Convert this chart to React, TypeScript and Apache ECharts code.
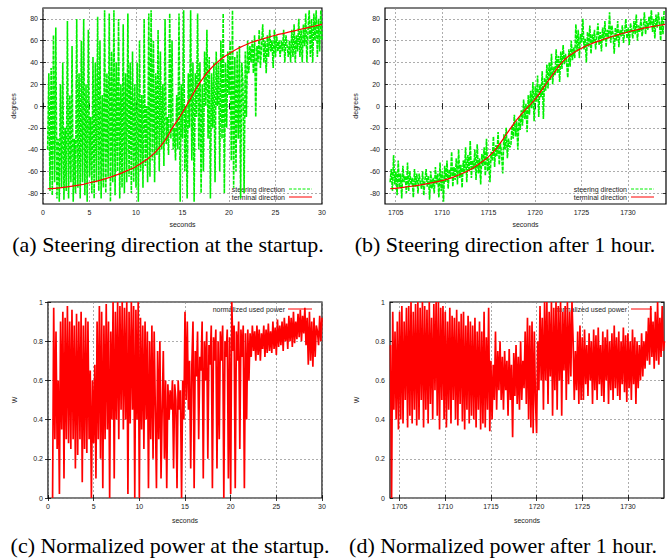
import React, { useEffect, useRef } from "react";
import * as echarts from "echarts";

// ---------- data ----------
const degreeTicks = [-80, -60, -40, -20, 0, 20, 40, 60, 80];
const lateSecondTicks = [1705, 1710, 1715, 1720, 1725, 1730];

// (a) steering direction at startup: sampled every 0.125 s from 0.5 s
const steeringStartT0 = 0.5;
const steeringStartStep = 0.125;
const steeringStartup = [
  -40, 30, -78, 35, -82, 65, -70, 72,
  -85, -30, -88, 20, -75, 40, -86, -20,
  -78, 78, -85, 10, -70, 55, -88, -30,
  -80, 80, -75, 30, -85, 60, -70, 80,
  -82, 20, -88, 70, -65, -10, -80, 45,
  -85, 40, -70, 82, -78, 60, -85, 10,
  -75, 88, -80, 30, -65, 85, -88, 50,
  -70, 88, -82, 40, -60, 80, -85, 20,
  -75, 75, -80, 30, -70, 85, -65, 40,
  -80, 50, -70, 20, -75, 40, -88, 60,
  -60, 10, -75, 80, -55, 0, -70, 85,
  -65, 88, -50, 60, -70, 30, -45, 70,
  -60, 50, -40, 20, -55, 80, -35, -10,
  -45, 85, -30, 60, -40, -20, -50, 10,
  -40, 85, -88, 20, -30, 88, -60, 0,
  -85, 30, -20, 88, -50, 40, -88, 30,
  -10, 85, -40, 40, -80, 20, -60, 50,
  0, 70, -30, 45, -85, 30, -20, 40,
  -70, 50, 0, 40, -60, 60, -30, 85,
  -80, 40, -20, 50, 10, 60, -50, 88,
  -75, 45, -60, 50, -30, 55, -85, 40,
  20, -80, 50, -10, 60, 30, 55, 40,
  60, 30, 65, -10, 55, 40, 70, 35,
  55, 75, 40, 60, 30, 65, 45, 70,
  50, 60, 35, 70, 45, 65, 50, 60,
  45, 60, 50, 70, 40, 65, 55, 45,
  60, 40, 70, 45, 75, 40, 65, 50,
  80, 45, 70, 40, 75, 55, 85, 40,
  70, 88, 45, 80, 40, 85, 60, 88,
  45, 80, 50, 88, 60,
];
const terminalStartT = [0.5, 2, 4, 5, 6, 7, 8, 9, 10, 11, 12, 13, 14, 15, 16, 17, 18, 19, 20, 21, 22, 23, 24, 25, 26, 27, 28, 29, 30];
const terminalStartDeg = [-76, -75, -72.5, -70.5, -68.5, -66, -63, -59.5, -55.5, -50, -43, -33, -19, -6, 9, 23, 34, 42, 48, 53, 57, 60, 62.5, 65, 67, 69, 71, 73, 75];

// (b) steering direction after 1 hour: every 0.125 s from 1704.4 s
const steeringLateT0 = 1704.4;
const steeringLateStep = 0.125;
const steeringLate = [
  -70, -58, -78, -45, -72, -60, -82, -50,
  -75, -62, -85, -55, -70, -64, -80, -52,
  -78, -60, -72, -66, -84, -58, -74, -62,
  -80, -62, -70, -76, -60, -82, -68, -58,
  -74, -64, -86, -60, -76, -66, -80, -56,
  -72, -62, -84, -52, -78, -60, -88, -55,
  -70, -50, -76, -58, -66, -42, -74, -56,
  -68, -48, -72, -40, -66, -54, -75, -50,
  -62, -38, -70, -45, -60, -32, -66, -50,
  -58, -40, -68, -35, -62, -48, -72, -44,
  -55, -38, -64, -30, -60, -48, -70, -42,
  -50, -28, -56, -36, -46, -24, -54, -34,
  -44, -62, -26, -40, -20, -48, -30, -38,
  -36, -18, -30, -8, -28, -14, -40, -10,
  -22, -4, -18, 6, -12, 2, -24, 10,
  -8, 14, -2, 22, -14, 18, 4, 28,
  -10, 20, 8, 32, -12, 26, 14, 38,
  16, 40, 24, 48, 20, 36, 28, 52,
  30, 46, 22, 50, 34, 56, 38, 48,
  40, 26, 52, 36, 60, 42, 54, 44,
  75, 50, 70, 44, 66, 58, 80, 52,
  62, 40, 68, 54, 74, 48, 66, 58,
  70, 52, 64, 76, 56, 68, 50, 72,
  60, 78, 54, 70, 62, 86, 58, 74,
  66, 48, 72, 60, 78, 54, 70, 64,
  74, 58, 68, 80, 62, 72, 56, 76,
  70, 62, 78, 66, 84, 60, 74, 68,
  80, 64, 72, 86, 66, 78, 70, 82,
  74, 88, 68, 80, 62, 84, 72, 86,
  76, 60, 82, 66, 88,
];
const terminalLateT = [1704.4, 1706, 1708, 1710, 1711, 1712, 1713, 1714, 1715, 1716, 1717, 1718, 1719, 1720, 1721, 1722, 1723, 1724, 1725, 1726, 1727, 1728, 1729, 1730, 1731, 1732, 1733, 1734];
const terminalLateDeg = [-76, -74.5, -72, -68.5, -66, -62.5, -58.5, -53, -46.5, -37, -25, -13, -3, 6, 18, 30, 41, 48, 53, 57, 60, 63, 65.5, 68, 70, 72, 73.5, 75];

// (c) normalized used power at startup: every 0.125 s from 0.5 s
const powerStartT0 = 0.5;
const powerStartStep = 0.125;
const powerStartup = [
  0.0, 0.97, 0.3, 0.85, 0.25, 0.6, 0.02, 0.9,
  0.35, 0.95, 0.1, 0.92, 0.3, 0.98, 0.28, 0.9,
  0.25, 0.96, 0.3, 0.88, 0.15, 0.94, 0.22, 0.9,
  0.3, 0.95, 0.08, 0.88, 0.25, 0.92, 0.23, 0.9,
  0.3, 0.65, 0.0, 0.6, 0.28, 0.68, 0.1, 0.9,
  0.3, 0.98, 0.2, 0.95, 0.05, 0.88, 0.3, 0.99,
  0.35, 0.9, 0.0, 0.85, 0.4, 1.0, 0.1, 0.95,
  0.4, 1.0, 0.3, 0.98, 0.45, 1.0, 0.35, 0.97,
  0.4, 1.0, 0.02, 0.95, 0.38, 1.0, 0.45, 0.98,
  0.0, 0.96, 0.4, 1.0, 0.0, 0.92, 0.35, 0.88,
  0.25, 0.9, 0.4, 0.85, 0.05, 0.8, 0.3, 0.88,
  0.2, 0.85, 0.45, 0.05, 0.75, 0.3, 0.8, 0.1,
  0.45, 0.75, 0.2, 0.6, 0.05, 0.58, 0.4, 0.55,
  0.45, 0.6, 0.15, 0.58, 0.5, 0.05, 0.6, 0.45,
  0.55, 0.0, 0.6, 0.4, 0.95, 0.5, 0.9, 0.45,
  0.7, 0.15, 0.68, 0.9, 0.05, 0.75, 0.62, 0.85,
  0.3, 0.72, 0.65, 0.9, 0.1, 0.8, 0.6, 0.85,
  0.2, 0.78, 0.68, 0.88, 0.05, 0.82, 0.7, 0.86,
  0.15, 0.8, 0.3, 0.85, 0.7, 0.88, 0.0, 0.8,
  0.72, 0.86, 0.1, 0.82, 0.02, 1.0, 0.75, 0.88,
  0.05, 0.85, 0.7, 0.9, 0.25, 0.86, 0.72, 0.88,
  0.05, 0.84, 0.4, 0.86, 0.6, 0.84, 0.72, 0.88,
  0.75, 0.85, 0.7, 0.88, 0.73, 0.86, 0.7, 0.84,
  0.76, 0.88, 0.72, 0.86, 0.74, 0.89, 0.75, 0.85,
  0.74, 0.9, 0.76, 0.87, 0.73, 0.91, 0.77, 0.88,
  0.78, 0.9, 0.75, 0.92, 0.8, 0.89, 0.76, 0.93,
  0.8, 0.92, 0.77, 0.95, 0.79, 0.9, 0.81, 0.94,
  0.82, 0.96, 0.8, 0.93, 0.84, 0.97, 0.78, 0.92,
  0.68, 0.95, 0.7, 0.9, 0.67, 0.92, 0.72, 0.88,
  0.85, 0.78, 0.93, 0.8, 0.92,
];

// (d) normalized used power after 1 hour: every 0.125 s from 1704 s
const powerLateT0 = 1704;
const powerLateStep = 0.125;
const powerLate = [
  0.78, 0.0, 0.95, 0.45, 0.85, 0.4, 0.9, 0.35,
  0.95, 0.4, 0.98, 0.38, 0.9, 0.5, 0.97, 0.36,
  0.98, 0.42, 1.0, 0.38, 0.95, 0.45, 0.99, 0.37,
  1.0, 0.4, 0.97, 0.5, 1.0, 0.36, 0.98, 0.45,
  0.96, 0.38, 1.0, 0.48, 0.92, 0.4, 0.99, 0.55,
  1.0, 0.42, 1.0, 0.35, 0.97, 0.5, 0.98, 0.4,
  0.95, 0.36, 0.9, 0.45, 0.97, 0.38, 0.93, 0.5,
  0.92, 0.4, 0.96, 0.37, 0.9, 0.48, 0.94, 0.39,
  0.95, 0.35, 0.88, 0.45, 0.93, 0.38, 0.9, 0.42,
  0.88, 0.4, 0.92, 0.36, 0.85, 0.45, 0.9, 0.35,
  0.85, 0.38, 0.95, 0.36, 0.82, 0.45, 0.97, 0.34,
  0.7, 0.4, 0.68, 0.5, 0.85, 0.45, 0.75, 0.55,
  0.8, 0.5, 0.72, 0.45, 0.75, 0.55, 0.7, 0.42,
  0.76, 0.5, 0.68, 0.31, 0.74, 0.52, 0.78, 0.48,
  0.72, 0.45, 0.8, 0.5, 0.7, 0.56, 0.85, 0.48,
  0.92, 0.4, 0.88, 0.36, 0.9, 0.33, 0.85, 0.5,
  0.33, 0.8, 0.55, 0.98, 0.6, 0.92, 0.45, 1.0,
  0.6, 1.0, 0.48, 0.95, 0.62, 1.0, 0.42, 0.97,
  0.55, 1.0, 0.45, 0.98, 0.6, 1.0, 0.42, 0.95,
  0.65, 0.98, 0.5, 1.0, 0.58, 0.95, 0.62, 1.0,
  0.8, 0.5, 0.75, 0.55, 0.85, 0.48, 0.88, 0.5,
  0.82, 0.5, 0.86, 0.58, 0.78, 0.52, 0.84, 0.6,
  0.8, 0.48, 0.86, 0.55, 0.83, 0.5, 0.87, 0.58,
  0.78, 0.52, 0.85, 0.49, 0.82, 0.6, 0.86, 0.48,
  0.8, 0.55, 0.84, 0.5, 0.88, 0.56, 0.82, 0.52,
  0.85, 0.5, 0.8, 0.58, 0.87, 0.54, 0.83, 0.49,
  0.84, 0.56, 0.8, 0.5, 0.86, 0.58, 0.82, 0.48,
  0.8, 0.56, 0.78, 0.6, 0.84, 0.62, 0.8, 0.66,
  0.85, 0.7, 0.92, 0.68, 0.98, 0.72, 0.9, 0.66,
  0.95, 0.7, 1.0, 0.68, 0.92, 0.72, 0.98, 0.75,
  0.8,
];

const captions = [
  "(a) Steering direction at the startup.",
  "(b) Steering direction after 1 hour.",
  "(c) Normalized power at the startup.",
  "(d) Normalized power after 1 hour.",
];

// ---------- helpers ----------
const SANS = '"Liberation Sans", Arial, sans-serif';
const SERIF = '"Liberation Serif", "Times New Roman", serif';
const GREEN = "#00f000";
const RED = "#ff0000";

const sampled = (t0: number, step: number, vals: number[]) =>
  vals.map((v, i) => [t0 + i * step, v]);
const paired = (ts: number[], vs: number[]) => ts.map((t, i) => [t, vs[i]]);

const splitLine = { show: true, lineStyle: { color: "#8a8a8a", width: 0.7, type: [2, 2] } };
const labelStyle = { fontSize: 7, color: "#222", fontFamily: SANS, formatter: (v: number) => String(v) };
const tickStyle = { show: true, inside: true, length: 3, lineStyle: { color: "#000", width: 0.8 } };

function xAxis(gridIndex: number, min: number, max: number, nameGap: number, custom?: number[]) {
  const ax: any = {
    type: "value",
    gridIndex,
    min,
    max,
    name: "seconds",
    nameLocation: "middle",
    nameGap,
    nameTextStyle: { fontSize: 7, color: "#222", fontFamily: SANS },
    axisLine: { show: false },
    axisTick: { ...tickStyle },
    axisLabel: { ...labelStyle, margin: 5 },
    splitLine,
  };
  if (custom) {
    ax.axisTick.customValues = custom;
    ax.axisLabel.customValues = custom;
  } else {
    ax.interval = 5;
  }
  return ax;
}

// mirrored ticks on the top border (no labels)
function xMirror(gridIndex: number, min: number, max: number, custom?: number[]) {
  const ax: any = {
    type: "value",
    gridIndex,
    position: "top",
    min,
    max,
    axisLine: { show: false },
    axisTick: { ...tickStyle },
    axisLabel: { show: false },
    splitLine: { show: false },
  };
  if (custom) ax.axisTick.customValues = custom;
  else ax.interval = 5;
  return ax;
}

function yAxis(gridIndex: number, min: number, max: number, name: string, nameGap: number, custom?: number[]) {
  const ax: any = {
    type: "value",
    gridIndex,
    min,
    max,
    name,
    nameLocation: "middle",
    nameRotate: 90,
    nameGap,
    nameTextStyle: { fontSize: 7, color: "#222", fontFamily: SANS },
    axisLine: { show: false },
    axisTick: { ...tickStyle },
    axisLabel: { ...labelStyle, margin: 5 },
    splitLine,
  };
  if (custom) {
    ax.axisTick.customValues = custom;
    ax.axisLabel.customValues = custom;
  } else {
    ax.interval = 0.2;
  }
  return ax;
}

function yMirror(gridIndex: number, min: number, max: number, custom?: number[]) {
  const ax: any = {
    type: "value",
    gridIndex,
    position: "right",
    min,
    max,
    axisLine: { show: false },
    axisTick: { ...tickStyle },
    axisLabel: { show: false },
    splitLine: { show: false },
  };
  if (custom) ax.axisTick.customValues = custom;
  else ax.interval = 0.2;
  return ax;
}

const gridBase = { show: true, borderColor: "#000", borderWidth: 1.2, backgroundColor: "transparent", containLabel: false };

function legendText(x: number, y: number, text: string) {
  return {
    type: "text",
    x,
    y,
    style: { text, align: "right", verticalAlign: "middle", font: `7px ${SANS}`, fill: "#222" },
  };
}
function legendLine(x1: number, x2: number, y: number, color: string, dash?: number[]) {
  return {
    type: "line",
    shape: { x1, y1: y, x2, y2: y },
    style: { stroke: color, lineWidth: 1, lineDash: dash || null },
  };
}
function caption(x: number, y: number, text: string) {
  return {
    type: "text",
    x,
    y,
    style: { text, align: "center", verticalAlign: "middle", font: `22px ${SERIF}`, fill: "#000" },
  };
}

export default function App() {
  const ref = useRef<HTMLDivElement>(null);

  useEffect(() => {
    if (!ref.current) return;
    const chart = echarts.init(ref.current, null, { renderer: "svg" });

    const option: any = {
      animation: false,
      backgroundColor: "#fff",
      grid: [
        { ...gridBase, left: 43, top: 8, width: 279, height: 196 },
        { ...gridBase, left: 385, top: 8, width: 281, height: 196 },
        { ...gridBase, left: 48, top: 302, width: 274, height: 196 },
        { ...gridBase, left: 390, top: 302, width: 274, height: 196 },
      ],
      xAxis: [
        xAxis(0, 0, 30, 17),
        xAxis(1, 1703.85, 1734.1, 17, lateSecondTicks),
        xAxis(2, 0, 30, 19),
        xAxis(3, 1703.95, 1733.95, 19, lateSecondTicks),
        xMirror(0, 0, 30),
        xMirror(1, 1703.85, 1734.1, lateSecondTicks),
        xMirror(2, 0, 30),
        xMirror(3, 1703.95, 1733.95, lateSecondTicks),
      ],
      yAxis: [
        yAxis(0, -90, 90, "degrees", 26, degreeTicks),
        yAxis(1, -90, 90, "degrees", 26, degreeTicks),
        yAxis(2, 0, 1, "W", 30),
        yAxis(3, 0, 1, "W", 30),
        yMirror(0, -90, 90, degreeTicks),
        yMirror(1, -90, 90, degreeTicks),
        yMirror(2, 0, 1),
        yMirror(3, 0, 1),
      ],
      series: [
        {
          name: "steering direction",
          type: "line",
          xAxisIndex: 0,
          yAxisIndex: 0,
          data: sampled(steeringStartT0, steeringStartStep, steeringStartup),
          showSymbol: false,
          symbol: "none",
          lineStyle: { color: GREEN, width: 1.6, type: [4, 1] },
        },
        {
          name: "terminal direction",
          type: "line",
          xAxisIndex: 0,
          yAxisIndex: 0,
          data: paired(terminalStartT, terminalStartDeg),
          smooth: true,
          showSymbol: false,
          symbol: "none",
          lineStyle: { color: RED, width: 1.2 },
          z: 3,
        },
        {
          name: "steering direction",
          type: "line",
          xAxisIndex: 1,
          yAxisIndex: 1,
          data: sampled(steeringLateT0, steeringLateStep, steeringLate),
          showSymbol: false,
          symbol: "none",
          lineStyle: { color: GREEN, width: 1.6, type: [4, 1] },
        },
        {
          name: "terminal direction",
          type: "line",
          xAxisIndex: 1,
          yAxisIndex: 1,
          data: paired(terminalLateT, terminalLateDeg),
          smooth: true,
          showSymbol: false,
          symbol: "none",
          lineStyle: { color: RED, width: 1.2 },
          z: 3,
        },
        {
          name: "normalized used power",
          type: "line",
          xAxisIndex: 2,
          yAxisIndex: 2,
          data: sampled(powerStartT0, powerStartStep, powerStartup),
          showSymbol: false,
          symbol: "none",
          lineStyle: { color: RED, width: 1.7 },
        },
        {
          name: "normalized used power",
          type: "line",
          xAxisIndex: 3,
          yAxisIndex: 3,
          data: sampled(powerLateT0, powerLateStep, powerLate),
          showSymbol: false,
          symbol: "none",
          lineStyle: { color: RED, width: 1.7 },
        },
      ],
      graphic: [
        legendText(285, 189, "steering direction"),
        legendLine(289, 312, 189, GREEN, [3, 1.5]),
        legendText(285, 197, "terminal direction"),
        legendLine(289, 312, 197, RED),
        legendText(627, 189, "steering direction"),
        legendLine(631, 654, 189, GREEN, [3, 1.5]),
        legendText(627, 197, "terminal direction"),
        legendLine(631, 654, 197, RED),
        legendText(285, 309, "normalized used power"),
        legendLine(288, 312, 309, RED),
        legendText(627, 309, "normalized used power"),
        legendLine(631, 652, 309, RED),
        caption(168, 244, captions[0]),
        caption(505, 244, captions[1]),
        caption(170, 545, captions[2]),
        caption(503, 545, captions[3]),
      ],
    };

    chart.setOption(option);
    return () => chart.dispose();
  }, []);

  return (
    <div
      ref={ref}
      style={{ position: "fixed", left: 0, top: 0, width: 672, height: 559, background: "#fff" }}
    />
  );
}
